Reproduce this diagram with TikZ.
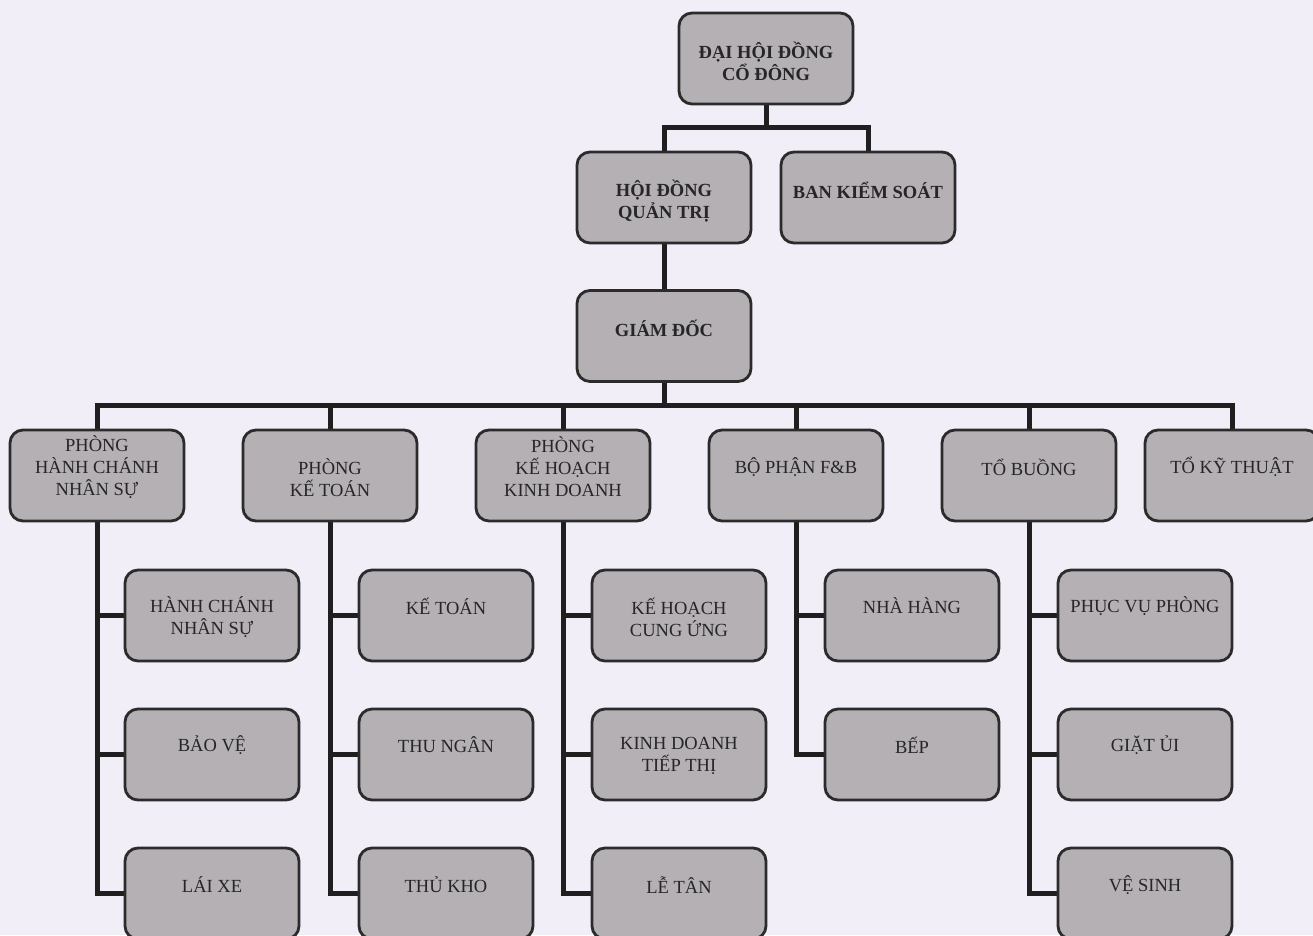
\documentclass[tikz,border=0pt]{standalone}
\usepackage{fontspec}
\setmainfont{Liberation Serif}
\pgfdeclarelayer{back}
\pgfdeclarelayer{wires}
\pgfsetlayers{back,wires,main}
\definecolor{paper}{HTML}{F1EEF7}
\definecolor{boxfill}{HTML}{B4B0B4}
\definecolor{edge}{HTML}{2B2B2B}
\definecolor{ink}{HTML}{262626}
\tikzset{
  box/.style={draw=edge, line width=2.8pt, fill=boxfill, rounded corners=13pt,
    minimum width=174pt, minimum height=91pt, inner sep=0pt},
  lbl/.style={align=center, font=\fontsize{18.5}{22}\selectfont, text=ink, inner sep=0pt},
  blbl/.style={align=center, font=\fontsize{18.5}{22}\selectfont\bfseries, text=ink, inner sep=0pt},
  link/.style={draw=black!88, line width=5pt},
}
\begin{document}
\begin{tikzpicture}[x=1pt,y=-1pt]
\begin{pgfonlayer}{back}
\fill[paper] (0,0) rectangle (1313,935);
\end{pgfonlayer}
\clip (0,0) rectangle (1313,935);
\useasboundingbox (0,0) rectangle (1313,935);

% top levels
\node[box] (dh) at (766,58.5) {};
\node[blbl] (dht) at ([yshift=-2.5pt]dh.center) {ĐẠI HỘI ĐỒNG\\CỔ ĐÔNG};
\node[box] (hd) at (664,197.5) {};
\node[blbl] (hdt) at ([yshift=-3.5pt]hd.center) {HỘI ĐỒNG\\QUẢN TRỊ};
\node[box] (bks) at (868,197.5) {};
\node[blbl] (bkst) at ([yshift=7.5pt]bks.center) {BAN KIỂM SOÁT};
\node[box] (gd) at (664,336) {};
\node[blbl] (gdt) at ([yshift=8pt]gd.center) {GIÁM ĐỐC};

% level 2
\node[box] (p1) at (97,475.5) {};
\node[lbl] (p1t) at ([yshift=8.5pt]p1.center) {PHÒNG\\HÀNH CHÁNH\\NHÂN SỰ};
\node[box] (p2) at (330,475.5) {};
\node[lbl] (p2t) at ([yshift=-2.5pt]p2.center) {PHÒNG\\KẾ TOÁN};
\node[box] (p3) at (563,475.5) {};
\node[lbl] (p3t) at ([yshift=8.5pt]p3.center) {PHÒNG\\KẾ HOẠCH\\KINH DOANH};
\node[box] (p4) at (796,475.5) {};
\node[lbl] (p4t) at ([yshift=8.5pt]p4.center) {BỘ PHẬN F\&B};
\node[box] (p5) at (1029,475.5) {};
\node[lbl] (p5t) at ([yshift=8.5pt]p5.center) {TỔ BUỒNG};
\node[box] (p6) at (1232,475.5) {};
\node[lbl] (p6t) at ([yshift=8.5pt]p6.center) {TỔ KỸ THUẬT};

% column 1
\node[box] (c11) at (212,615.5) {};
\node[lbl] at ([yshift=-1.5pt]c11.center) {HÀNH CHÁNH\\NHÂN SỰ};
\node[box] (c12) at (212,754.5) {};
\node[lbl] at ([yshift=9.5pt]c12.center) {BẢO VỆ};
\node[box] (c13) at (212,893.5) {};
\node[lbl] at ([yshift=8.5pt]c13.center) {LÁI XE};
% column 2
\node[box] (c21) at (446,615.5) {};
\node[lbl] at ([yshift=9.5pt]c21.center) {KẾ TOÁN};
\node[box] (c22) at (446,754.5) {};
\node[lbl] at ([yshift=9.5pt]c22.center) {THU NGÂN};
\node[box] (c23) at (446,893.5) {};
\node[lbl] at ([yshift=8.5pt]c23.center) {THỦ KHO};
% column 3
\node[box] (c31) at (679,615.5) {};
\node[lbl] at ([yshift=-1.5pt]c31.center) {KẾ HOẠCH\\CUNG ỨNG};
\node[box] (c32) at (679,754.5) {};
\node[lbl] at ([yshift=-1.5pt]c32.center) {KINH DOANH\\TIẾP THỊ};
\node[box] (c33) at (679,893.5) {};
\node[lbl] at ([yshift=8.5pt]c33.center) {LỄ TÂN};
% column 4
\node[box] (c41) at (912,615.5) {};
\node[lbl] at ([yshift=9.5pt]c41.center) {NHÀ HÀNG};
\node[box] (c42) at (912,754.5) {};
\node[lbl] at ([yshift=9.5pt]c42.center) {BẾP};
% column 5
\node[box] (c51) at (1145,615.5) {};
\node[lbl] at ([yshift=9.5pt]c51.center) {PHỤC VỤ PHÒNG};
\node[box] (c52) at (1145,754.5) {};
\node[lbl] at ([yshift=9.5pt]c52.center) {GIẶT ỦI};
\node[box] (c53) at (1145,893.5) {};
\node[lbl] at ([yshift=8.5pt]c53.center) {VỆ SINH};

\coordinate (j1) at (766,127);
\coordinate (j2) at (664,405);

\begin{pgfonlayer}{wires}
\draw[link] (dh.south) -- (j1);
\draw[link] (hd.north) |- (j1) -| (bks.north);
\draw[link] (hd.south) -- (gd.north);
\draw[link] (gd.south) -- (j2);
\draw[link] (p1.north) |- (j2) -| (p6.north);
\draw[link] (p2.north) -- (p2.north |- j2);
\draw[link] (p3.north) -- (p3.north |- j2);
\draw[link] (p4.north) -- (p4.north |- j2);
\draw[link] (p5.north) -- (p5.north |- j2);
\foreach \p/\c in {p1/c11,p1/c12,p1/c13,p2/c21,p2/c22,p2/c23,p3/c31,p3/c32,p3/c33,p4/c41,p4/c42,p5/c51,p5/c52,p5/c53}
  \draw[link] (\p.south) |- (\c.west);
\end{pgfonlayer}
\end{tikzpicture}
\end{document}
